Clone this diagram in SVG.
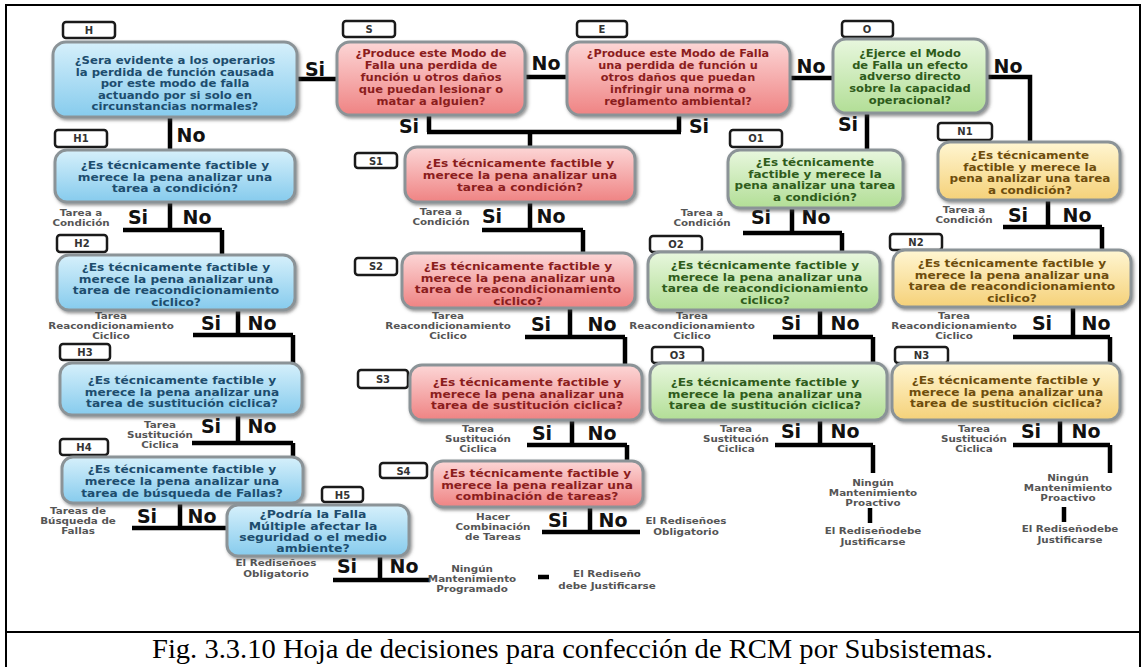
<svg xmlns="http://www.w3.org/2000/svg" width="1145" height="667" viewBox="0 0 1145 667">
<defs>
<linearGradient id="gB" x1="0" y1="0" x2="0" y2="1"><stop offset="0" stop-color="#d6f0fb"/><stop offset="1" stop-color="#86cbed"/></linearGradient>
<linearGradient id="gR" x1="0" y1="0" x2="0" y2="1"><stop offset="0" stop-color="#fcd6d6"/><stop offset="1" stop-color="#ef8383"/></linearGradient>
<linearGradient id="gG" x1="0" y1="0" x2="0" y2="1"><stop offset="0" stop-color="#e8f7de"/><stop offset="1" stop-color="#b2de96"/></linearGradient>
<linearGradient id="gY" x1="0" y1="0" x2="0" y2="1"><stop offset="0" stop-color="#fff6d2"/><stop offset="1" stop-color="#f5d179"/></linearGradient>
<filter id="sh" x="-10%" y="-10%" width="125%" height="135%"><feDropShadow dx="1.5" dy="2" stdDeviation="1.5" flood-color="#444" flood-opacity="0.55"/></filter>
<style>
.bx{stroke:#8b9397;stroke-width:3;filter:url(#sh)}
.b{fill:url(#gB)} .r{fill:url(#gR)} .g{fill:url(#gG)} .y{fill:url(#gY)}
.lab{fill:#fff;stroke:#1a1a1a;stroke-width:2.5}
.lt{font-family:"DejaVu Sans",sans-serif;font-weight:bold;font-size:10px;fill:#333;text-anchor:middle}
.tx{font-family:"DejaVu Sans",sans-serif;font-weight:bold;font-size:10px;text-anchor:middle}
.h5{font-size:9.8px}
.tB{fill:#1d4d6e} .tR{fill:#8b1d1d} .tG{fill:#2f5c1b} .tY{fill:#6e4d0c}
.cn{stroke:#000;stroke-width:4.5;fill:none}
.yn{font-family:"DejaVu Sans",sans-serif;font-weight:bold;font-size:19px;fill:#111;text-anchor:middle}
.sm{font-family:"DejaVu Sans",sans-serif;font-weight:bold;font-size:8.5px;fill:#555;text-anchor:middle}
.cap{font-family:"Liberation Serif","Times New Roman",serif;font-size:27px;fill:#000}
</style>
</defs>
<rect x="0" y="0" width="1145" height="667" fill="#fff"/>
<g id="frame" fill="none" stroke="#000" stroke-width="2">
<path d="M6,672 V5 H1140 V672"/>
<path d="M6,632 H1140"/>
</g>
<text class="cap" x="152" y="658" textLength="841" lengthAdjust="spacingAndGlyphs">Fig. 3.3.10 Hoja de decisiones para confección de RCM por Subsistemas.</text>

<g id="connectors">
<path class="cn" d="M297,79 H337 M525,77 H567 M790,78 H833 M987,77 H1030 V142"/>
<path class="cn" d="M170,117 V150 M429,115 V132 M679,115 V132 M427,132 H681 M530,132 V147 M867,113 V150"/>
<path class="cn" d="M170,202 V230 M123,230 H222 M222,230 V255"/>
<path class="cn" d="M238,310 V335 M193,335 H293 M293,335 V363"/>
<path class="cn" d="M238,415 V443 M192,443 H293 M293,443 V457"/>
<path class="cn" d="M180,502 V528 M132,528 H227"/>
<path class="cn" d="M380,556 V580 M333,580 H430 M538,577 H549"/>
<path class="cn" d="M530,202 V230 M482,230 H583 M583,230 V253"/>
<path class="cn" d="M570,308 V337 M525,337 H625 M625,337 V365"/>
<path class="cn" d="M572,420 V445 M527,445 H627 M627,445 V461"/>
<path class="cn" d="M590,507 V532 M542,532 H640"/>
<path class="cn" d="M792,208 V233 M743,233 H842 M842,233 V252"/>
<path class="cn" d="M820,310 V337 M773,337 H873 M873,337 V363"/>
<path class="cn" d="M820,420 V445 M775,445 H873 M873,445 V473 M870,508 V523"/>
<path class="cn" d="M1048,200 V227 M1003,227 H1102 M1102,227 V250"/>
<path class="cn" d="M1073,307 V337 M1013,337 H1110 M1110,337 V363"/>
<path class="cn" d="M1060,420 V445 M1013,445 H1110 M1110,445 V473 M1064,507 V522"/>

<text class="yn" x="315" y="76">Si</text>
<text class="yn" x="546" y="70">No</text>
<text class="yn" x="811" y="73">No</text>
<text class="yn" x="1008" y="73">No</text>
<text class="yn" x="191" y="142">No</text>
<text class="yn" x="409" y="133">Si</text>
<text class="yn" x="699" y="133">Si</text>
<text class="yn" x="848" y="131">Si</text>

<text class="yn" x="138" y="224">Si</text><text class="yn" x="197" y="224">No</text>
<text class="sm" transform="translate(81,0) scale(1.22,1)"><tspan x="0" y="216">Tarea a</tspan><tspan x="0" y="226">Condición</tspan></text>
<text class="yn" x="211" y="330">Si</text><text class="yn" x="262" y="330">No</text>
<text class="sm" transform="translate(111,0) scale(1.22,1)"><tspan x="0" y="319">Tarea</tspan><tspan x="0" y="329">Reacondicionamiento</tspan><tspan x="0" y="339">Ciclico</tspan></text>
<text class="yn" x="211" y="433">Si</text><text class="yn" x="262" y="433">No</text>
<text class="sm" transform="translate(160,0) scale(1.22,1)"><tspan x="0" y="428">Tarea</tspan><tspan x="0" y="438">Sustitución</tspan><tspan x="0" y="448">Ciclica</tspan></text>
<text class="yn" x="147" y="523">Si</text><text class="yn" x="202" y="523">No</text>
<text class="sm" transform="translate(78,0) scale(1.22,1)"><tspan x="0" y="514">Tareas de</tspan><tspan x="0" y="524">Búsqueda de</tspan><tspan x="0" y="534">Fallas</tspan></text>
<text class="yn" x="347" y="573">Si</text><text class="yn" x="404" y="573">No</text>
<text class="sm" transform="translate(276,0) scale(1.22,1)"><tspan x="0" y="566">El Rediseñoes</tspan><tspan x="0" y="577">Obligatorio</tspan></text>
<text class="sm" transform="translate(472,0) scale(1.22,1)"><tspan x="0" y="572">Ningún</tspan><tspan x="0" y="582">Mantenimiento</tspan><tspan x="0" y="592">Programado</tspan></text>
<text class="sm" transform="translate(607,0) scale(1.22,1)"><tspan x="0" y="577">El Rediseño</tspan><tspan x="0" y="589">debe Justificarse</tspan></text>

<text class="yn" x="492" y="223">Si</text><text class="yn" x="551" y="223">No</text>
<text class="sm" transform="translate(441,0) scale(1.22,1)"><tspan x="0" y="215">Tarea a</tspan><tspan x="0" y="225">Condición</tspan></text>
<text class="yn" x="541" y="331">Si</text><text class="yn" x="602" y="331">No</text>
<text class="sm" transform="translate(448,0) scale(1.22,1)"><tspan x="0" y="319">Tarea</tspan><tspan x="0" y="329">Reacondicionamiento</tspan><tspan x="0" y="339">Ciclico</tspan></text>
<text class="yn" x="542" y="440">Si</text><text class="yn" x="602" y="440">No</text>
<text class="sm" transform="translate(478,0) scale(1.22,1)"><tspan x="0" y="432">Tarea</tspan><tspan x="0" y="442">Sustitución</tspan><tspan x="0" y="452">Ciclica</tspan></text>
<text class="yn" x="558" y="527">Si</text><text class="yn" x="613" y="527">No</text>
<text class="sm" transform="translate(493,0) scale(1.22,1)"><tspan x="0" y="520">Hacer</tspan><tspan x="0" y="530">Combinación</tspan><tspan x="0" y="540">de Tareas</tspan></text>
<text class="sm" transform="translate(686,0) scale(1.22,1)"><tspan x="0" y="524">El Rediseñoes</tspan><tspan x="0" y="535">Obligatorio</tspan></text>

<text class="yn" x="761" y="224">Si</text><text class="yn" x="816" y="224">No</text>
<text class="sm" transform="translate(702,0) scale(1.22,1)"><tspan x="0" y="216">Tarea a</tspan><tspan x="0" y="226">Condición</tspan></text>
<text class="yn" x="791" y="330">Si</text><text class="yn" x="845" y="330">No</text>
<text class="sm" transform="translate(692,0) scale(1.22,1)"><tspan x="0" y="319">Tarea</tspan><tspan x="0" y="329">Reacondicionamiento</tspan><tspan x="0" y="339">Ciclico</tspan></text>
<text class="yn" x="791" y="438">Si</text><text class="yn" x="845" y="438">No</text>
<text class="sm" transform="translate(736,0) scale(1.22,1)"><tspan x="0" y="432">Tarea</tspan><tspan x="0" y="442">Sustitución</tspan><tspan x="0" y="452">Ciclica</tspan></text>
<text class="sm" transform="translate(873,0) scale(1.22,1)"><tspan x="0" y="486">Ningún</tspan><tspan x="0" y="496">Mantenimiento</tspan><tspan x="0" y="506">Proactivo</tspan></text>
<text class="sm" transform="translate(873,0) scale(1.22,1)"><tspan x="0" y="534">El Rediseñodebe</tspan><tspan x="0" y="545">Justificarse</tspan></text>

<text class="yn" x="1018" y="222">Si</text><text class="yn" x="1077" y="222">No</text>
<text class="sm" transform="translate(964,0) scale(1.22,1)"><tspan x="0" y="213">Tarea a</tspan><tspan x="0" y="223">Condición</tspan></text>
<text class="yn" x="1042" y="330">Si</text><text class="yn" x="1096" y="330">No</text>
<text class="sm" transform="translate(954,0) scale(1.22,1)"><tspan x="0" y="319">Tarea</tspan><tspan x="0" y="329">Reacondicionamiento</tspan><tspan x="0" y="339">Ciclico</tspan></text>
<text class="yn" x="1031" y="438">Si</text><text class="yn" x="1086" y="438">No</text>
<text class="sm" transform="translate(974,0) scale(1.22,1)"><tspan x="0" y="432">Tarea</tspan><tspan x="0" y="442">Sustitución</tspan><tspan x="0" y="452">Ciclica</tspan></text>
<text class="sm" transform="translate(1068,0) scale(1.22,1)"><tspan x="0" y="481">Ningún</tspan><tspan x="0" y="491">Mantenimiento</tspan><tspan x="0" y="501">Proactivo</tspan></text>
<text class="sm" transform="translate(1070,0) scale(1.22,1)"><tspan x="0" y="532">El Rediseñodebe</tspan><tspan x="0" y="543">Justificarse</tspan></text>
</g>

<g id="H">
<rect class="lab" x="63" y="22" width="52" height="16" rx="3"/><text class="lt" x="89" y="34">H</text>
<rect class="bx b" x="53" y="42" width="244" height="75" rx="13"/>
<text class="tx tB" transform="translate(175,0) scale(1.17,1)"><tspan x="0" y="64">¿Sera evidente a los operarios</tspan><tspan x="0" y="75.6">la perdida de función  causada</tspan><tspan x="0" y="87.2">por este modo de falla</tspan><tspan x="0" y="98.8">actuando por si solo en</tspan><tspan x="0" y="110.4">circunstancias normales?</tspan></text>
</g>
<g id="S">
<rect class="lab" x="343" y="21" width="52" height="16" rx="3"/><text class="lt" x="369" y="33">S</text>
<rect class="bx r" x="337" y="42" width="188" height="73" rx="13"/>
<text class="tx tR" transform="translate(431,0) scale(1.15,1)"><tspan x="0" y="57">¿Produce este Modo de</tspan><tspan x="0" y="69">Falla  una perdida de</tspan><tspan x="0" y="81">función  u otros daños</tspan><tspan x="0" y="93">que puedan  lesionar o</tspan><tspan x="0" y="105">matar a alguien?</tspan></text>
</g>
<g id="E">
<rect class="lab" x="577" y="21" width="50" height="16" rx="3"/><text class="lt" x="602" y="33">E</text>
<rect class="bx r" x="567" y="42" width="223" height="73" rx="13"/>
<text class="tx tR" transform="translate(678,0) scale(1.13,1)"><tspan x="0" y="57">¿Produce este Modo de Falla</tspan><tspan x="0" y="69">una perdida de función u</tspan><tspan x="0" y="81">otros daños que puedan</tspan><tspan x="0" y="93">infringir  una norma o</tspan><tspan x="0" y="105">reglamento ambiental?</tspan></text>
</g>
<g id="O">
<rect class="lab" x="842" y="21" width="51" height="16" rx="3"/><text class="lt" x="867" y="33">O</text>
<rect class="bx g" x="833" y="39" width="154" height="74" rx="13"/>
<text class="tx tG" transform="translate(910,0) scale(1.15,1)"><tspan x="0" y="57">¿Ejerce el Modo</tspan><tspan x="0" y="68.7">de Falla  un efecto</tspan><tspan x="0" y="80.4">adverso directo</tspan><tspan x="0" y="92.1">sobre la capacidad</tspan><tspan x="0" y="103.8">operacional?</tspan></text>
</g>

<g id="H1">
<rect class="lab" x="55" y="130" width="52" height="17" rx="3"/><text class="lt" x="81" y="142">H1</text>
<rect class="bx b" x="55" y="150" width="240" height="52" rx="12"/>
<text class="tx tB" transform="translate(175,0) scale(1.22,1)"><tspan x="0" y="169">¿Es técnicamente factible y</tspan><tspan x="0" y="180.7">merece la pena analizar una</tspan><tspan x="0" y="192.4">tarea a condición?</tspan></text>
</g>
<g id="H2">
<rect class="lab" x="57" y="235" width="50" height="17" rx="3"/><text class="lt" x="82" y="247">H2</text>
<rect class="bx b" x="57" y="255" width="238" height="55" rx="12"/>
<text class="tx tB" transform="translate(176,0) scale(1.22,1)"><tspan x="0" y="271">¿Es técnicamente factible y</tspan><tspan x="0" y="282.7">merece la pena analizar una</tspan><tspan x="0" y="294.4">tarea de reacondicionamiento</tspan><tspan x="0" y="306.1">ciclico?</tspan></text>
</g>
<g id="H3">
<rect class="lab" x="60" y="344" width="50" height="16" rx="3"/><text class="lt" x="85" y="356">H3</text>
<rect class="bx b" x="60" y="363" width="242" height="52" rx="12"/>
<text class="tx tB" transform="translate(182,0) scale(1.22,1)"><tspan x="0" y="384">¿Es técnicamente factible y</tspan><tspan x="0" y="395.7">merece la pena analizar una</tspan><tspan x="0" y="407.4">tarea de sustitución  ciclica?</tspan></text>
</g>
<g id="H4">
<rect class="lab" x="60" y="439" width="48" height="16" rx="3"/><text class="lt" x="84" y="451">H4</text>
<rect class="bx b" x="62" y="457" width="241" height="46" rx="11"/>
<text class="tx tB" transform="translate(182,0) scale(1.22,1)"><tspan x="0" y="473.5">¿Es técnicamente factible y</tspan><tspan x="0" y="485.2">merece la pena analizar una</tspan><tspan x="0" y="496.9">tarea de búsqueda de Fallas?</tspan></text>
</g>
<g id="H5">
<rect class="lab" x="322" y="487" width="41" height="15" rx="3"/><text class="lt" x="342.5" y="498.5">H5</text>
<rect class="bx b" x="227" y="505" width="182" height="51" rx="11"/>
<text class="tx h5 tB" transform="translate(313,0) scale(1.27,1)"><tspan x="0" y="518">¿Podría la Falla</tspan><tspan x="0" y="529.5">Múltiple  afectar la</tspan><tspan x="0" y="541">seguridad o el medio</tspan><tspan x="0" y="552.5">ambiente?</tspan></text>
</g>

<g id="S1">
<rect class="lab" x="355" y="153" width="42" height="15" rx="3"/><text class="lt" x="376" y="164.5">S1</text>
<rect class="bx r" x="405" y="147" width="230" height="55" rx="12"/>
<text class="tx tR" transform="translate(520,0) scale(1.22,1)"><tspan x="0" y="167">¿Es técnicamente factible y</tspan><tspan x="0" y="179">merece la pena analizar una</tspan><tspan x="0" y="191">tarea a condición?</tspan></text>
</g>
<g id="S2">
<rect class="lab" x="355" y="258" width="42" height="17" rx="3"/><text class="lt" x="376" y="270">S2</text>
<rect class="bx r" x="402" y="253" width="233" height="55" rx="12"/>
<text class="tx tR" transform="translate(518,0) scale(1.22,1)"><tspan x="0" y="270">¿Es técnicamente factible y</tspan><tspan x="0" y="281.7">merece la pena analizar una</tspan><tspan x="0" y="293.4">tarea de reacondicionamiento</tspan><tspan x="0" y="305.1">ciclico?</tspan></text>
</g>
<g id="S3">
<rect class="lab" x="358" y="370" width="50" height="18" rx="3"/><text class="lt" x="383" y="383">S3</text>
<rect class="bx r" x="410" y="365" width="232" height="55" rx="12"/>
<text class="tx tR" transform="translate(527,0) scale(1.22,1)"><tspan x="0" y="386">¿Es técnicamente factible y</tspan><tspan x="0" y="397.7">merece la pena analizar una</tspan><tspan x="0" y="409.4">tarea de sustitución   ciclica?</tspan></text>
</g>
<g id="S4">
<rect class="lab" x="380" y="463" width="47" height="15" rx="3"/><text class="lt" x="403.5" y="474.5">S4</text>
<rect class="bx r" x="432" y="461" width="211" height="46" rx="11"/>
<text class="tx tR" transform="translate(537,0) scale(1.22,1)"><tspan x="0" y="477">¿Es técnicamente factible y</tspan><tspan x="0" y="488.7">merece la pena realizar una</tspan><tspan x="0" y="500.4">combinación de tareas?</tspan></text>
</g>

<g id="O1">
<rect class="lab" x="730" y="130" width="52" height="17" rx="3"/><text class="lt" x="756" y="142">O1</text>
<rect class="bx g" x="728" y="150" width="175" height="58" rx="12"/>
<text class="tx tG" transform="translate(815,0) scale(1.2,1)"><tspan x="0" y="166">¿Es técnicamente</tspan><tspan x="0" y="177.7">factible y merece la</tspan><tspan x="0" y="189.4">pena analizar una tarea</tspan><tspan x="0" y="201.1">a condición?</tspan></text>
</g>
<g id="O2">
<rect class="lab" x="650" y="236" width="52" height="16" rx="3"/><text class="lt" x="676" y="248">O2</text>
<rect class="bx g" x="648" y="252" width="232" height="58" rx="12"/>
<text class="tx tG" transform="translate(765,0) scale(1.22,1)"><tspan x="0" y="269">¿Es técnicamente factible y</tspan><tspan x="0" y="280.7">merece la pena analizar una</tspan><tspan x="0" y="292.4">tarea de reacondicionamiento</tspan><tspan x="0" y="304.1">ciclico?</tspan></text>
</g>
<g id="O3">
<rect class="lab" x="652" y="347" width="51" height="16" rx="3"/><text class="lt" x="677.5" y="359">O3</text>
<rect class="bx g" x="650" y="363" width="237" height="57" rx="12"/>
<text class="tx tG" transform="translate(765,0) scale(1.22,1)"><tspan x="0" y="386">¿Es técnicamente factible y</tspan><tspan x="0" y="397.7">merece la pena analizar una</tspan><tspan x="0" y="409.4">tarea de sustitución  ciclica?</tspan></text>
</g>

<g id="N1">
<rect class="lab" x="938" y="123" width="54" height="17" rx="3"/><text class="lt" x="965" y="135">N1</text>
<rect class="bx y" x="938" y="142" width="182" height="58" rx="12"/>
<text class="tx tY" transform="translate(1030,0) scale(1.2,1)"><tspan x="0" y="159">¿Es técnicamente</tspan><tspan x="0" y="170.7">factible y merece la</tspan><tspan x="0" y="182.4">pena analizar una tarea</tspan><tspan x="0" y="194.1">a condición?</tspan></text>
</g>
<g id="N2">
<rect class="lab" x="890" y="234" width="52" height="16" rx="3"/><text class="lt" x="916" y="246">N2</text>
<rect class="bx y" x="893" y="250" width="238" height="57" rx="12"/>
<text class="tx tY" transform="translate(1012,0) scale(1.22,1)"><tspan x="0" y="267">¿Es técnicamente factible y</tspan><tspan x="0" y="278.7">merece la pena analizar una</tspan><tspan x="0" y="290.4">tarea de reacondicionamiento</tspan><tspan x="0" y="302.1">ciclico?</tspan></text>
</g>
<g id="N3">
<rect class="lab" x="895" y="347" width="53" height="16" rx="3"/><text class="lt" x="921.5" y="359">N3</text>
<rect class="bx y" x="892" y="363" width="228" height="57" rx="12"/>
<text class="tx tY" transform="translate(1006,0) scale(1.22,1)"><tspan x="0" y="384">¿Es técnicamente factible y</tspan><tspan x="0" y="395.7">merece la pena analizar una</tspan><tspan x="0" y="407.4">tarea de sustitución  ciclica?</tspan></text>
</g>
</svg>
